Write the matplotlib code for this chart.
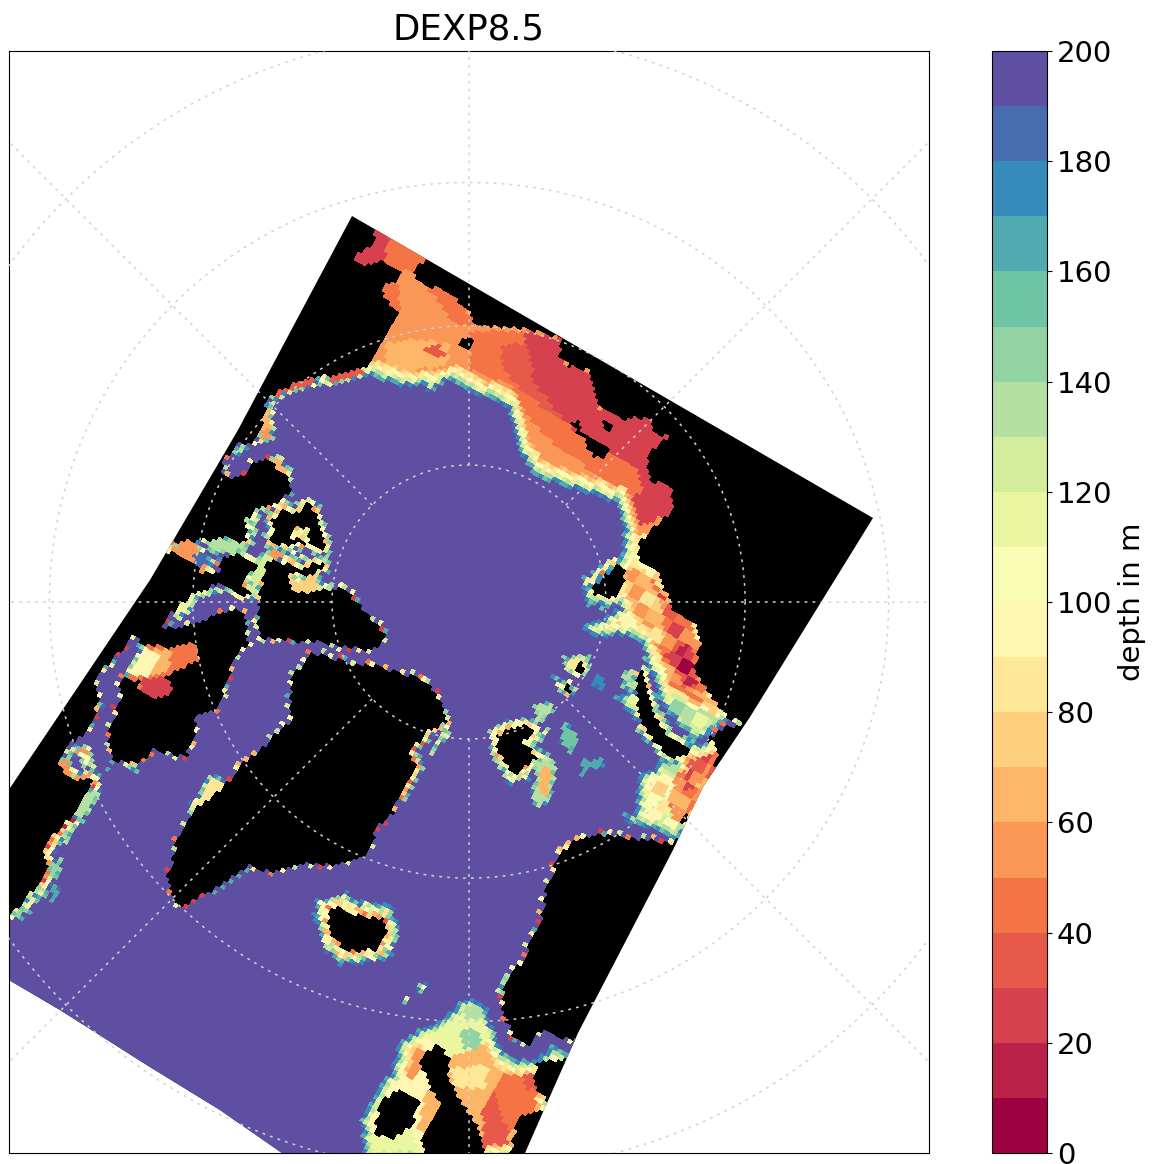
import numpy as np
import matplotlib
matplotlib.use("Agg")
import matplotlib.pyplot as plt
from matplotlib.colors import BoundaryNorm
from matplotlib.patches import Polygon
from matplotlib.path import Path

title = "DEXP8.5"
cbar_label = "depth in m"
levels = list(range(0, 201, 10))
cbar_ticks = list(range(0, 201, 20))
grid_lats = [80, 70, 60, 50]
grid_lons = [0, 45, 90, 135, 180, 225, 270, 315]

# map outlines (map x, map y)
domain = [(352, 216), (873, 518), (750, 717), (703, 787), (673, 850), (578, 1033), (547, 1103), (525, 1153),
          (515, 1175), (300, 1175), (282, 1153), (220, 1110), (150, 1067), (60, 1010), (9, 980), (-20, 965),
          (-20, 830), (10, 788), (123, 620), (150, 580), (238, 430)]

land_top_left = [(340, 195), (378, 225), (378, 230), (370, 247), (355, 258), (360, 265), (383, 260), (400, 273),
                 (397, 280), (383, 288), (383, 297), (400, 313), (387, 333), (375, 357), (363, 370), (340, 374),
                 (310, 380), (285, 388), (268, 400), (262, 425), (255, 442), (238, 445), (225, 460), (222, 470),
                 (190, 470), (150, 500), (200, 300)]
land_siberia = [(428, 255), (415, 270), (415, 278), (428, 288), (440, 287), (470, 313), (473, 325), (527, 330),
                (560, 338), (560, 357), (570, 367), (588, 370), (592, 387), (600, 407), (627, 420), (647, 417),
                (653, 433), (668, 437), (648, 453), (648, 480), (670, 487), (673, 510), (640, 540), (637, 560),
                (657, 573), (673, 610), (693, 623), (700, 647), (693, 667), (707, 693), (730, 720), (760, 725),
                (900, 520), (440, 235)]
land_east_edge = [(703, 741), (725, 726), (760, 725), (730, 790), (707, 787), (717, 757), (713, 743)]
land_banks = [(222, 470), (230, 478), (245, 475), (250, 463), (268, 458), (290, 480), (290, 492), (277, 505),
              (253, 510), (245, 523), (248, 540), (247, 545), (230, 538), (213, 540), (193, 542), (173, 543),
              (160, 546), (150, 500), (190, 460)]
land_victoria = [(220, 558), (237, 553), (250, 562), (257, 567), (248, 577), (242, 587), (252, 593), (247, 597),
                 (232, 591), (220, 585), (205, 590), (193, 595), (183, 603), (170, 615), (165, 622), (140, 625),
                 (140, 560), (165, 553), (173, 553), (193, 563), (203, 573), (220, 573)]
land_ellesmere = [(272, 518), (283, 510), (297, 512), (307, 501), (315, 510), (320, 528), (325, 545), (323, 552),
                  (307, 543), (298, 545), (287, 547), (270, 543), (272, 530)]
ellesmere_hole = [(293, 528), (310, 528), (307, 542), (293, 537)]
land_baffin = [(267, 558), (282, 565), (293, 563), (297, 572), (288, 575), (293, 593), (333, 588), (347, 590),
               (360, 605), (373, 620), (385, 633), (380, 650), (363, 650), (340, 647), (320, 643), (307, 640),
               (293, 643), (282, 638), (260, 640), (257, 627), (257, 610), (260, 590), (262, 577)]
land_devon = [(313, 563), (327, 563), (322, 570), (307, 577), (290, 573)]
land_quebec = [(165, 628), (175, 627), (195, 622), (240, 607), (247, 620), (248, 643), (238, 657), (230, 673),
               (217, 710), (197, 717), (195, 733), (187, 757), (153, 750), (140, 763), (112, 762), (108, 737),
               (120, 697), (120, 677), (143, 682), (138, 687), (147, 695), (163, 698), (175, 690), (163, 677),
               (187, 665), (198, 660), (193, 642), (167, 648), (143, 645), (135, 635)]
land_left = [(-20, 500), (140, 540), (165, 620), (165, 628), (135, 635), (115, 657), (95, 680), (100, 703), (83, 737),
             (70, 745), (60, 763), (65, 775), (80, 780), (97, 777), (78, 810), (63, 827), (43, 847), (50, 867),
             (40, 883), (20, 907), (9, 915), (-20, 915)]
land_greenland = [(292, 677), (307, 657), (315, 652), (347, 662), (383, 667), (427, 680), (443, 707), (447, 723),
                  (427, 733), (410, 753), (417, 767), (403, 790), (393, 813), (377, 827), (373, 847), (360, 860),
                  (333, 867), (307, 863), (273, 873), (250, 867), (227, 882), (203, 895), (183, 908), (173, 902),
                  (167, 880), (177, 840), (190, 813), (227, 783), (243, 763), (260, 750), (277, 733), (290, 720)]
land_iceland = [(330, 908), (342, 905), (350, 913), (367, 917), (383, 918), (387, 933), (380, 950), (350, 952),
                (333, 940), (328, 923)]
land_svalbard = [(590, 588), (603, 577), (617, 563), (628, 570), (617, 598), (605, 597), (595, 595)]
land_franz = [(575, 668), (583, 660), (585, 670), (578, 675)]
land_franz2 = [(565, 683), (572, 687), (570, 692), (565, 690)]
land_island = [(497, 737), (510, 727), (527, 725), (535, 733), (523, 743), (538, 757), (530, 763), (522, 768),
               (520, 778), (507, 767), (497, 753)]
land_zemlya = [(637, 672), (645, 672), (647, 690), (657, 717), (670, 737), (693, 750), (683, 758), (670, 760),
               (653, 740), (640, 720), (635, 693)]
land_norway = [(677, 837), (673, 843), (597, 833), (577, 838), (563, 850), (548, 880), (540, 920), (523, 960),
               (503, 983), (503, 1010), (510, 1033), (527, 1048), (537, 1032), (553, 1033), (560, 1040), (590, 1040),
               (720, 850)]
land_sweden = [(565, 1058), (537, 1063), (533, 1083), (547, 1103), (570, 1110), (590, 1060)]
land_south = [(543, 1110), (517, 1118), (510, 1153), (510, 1180), (560, 1180), (600, 1110)]
land_uk = [(435, 1042), (442, 1047), (452, 1058), (448, 1077), (457, 1093), (470, 1113), (483, 1137), (483, 1180),
           (428, 1180), (420, 1140), (427, 1130), (440, 1103), (430, 1090), (420, 1063), (423, 1057)]
land_ireland = [(380, 1100), (403, 1088), (420, 1100), (412, 1127), (390, 1140), (373, 1133)]
land_wrangel = [(458, 345), (463, 338), (475, 338), (472, 348), (465, 350)]
land_nsi = [(570, 422), (580, 420), (583, 432), (610, 448), (605, 460), (593, 457), (583, 440)]
land_nsi2 = [(600, 418), (615, 427), (610, 435), (605, 430)]
land_kolguev = [(683, 813), (692, 812), (687, 825), (680, 822)]
land_polys = [land_top_left, land_siberia, land_east_edge, land_banks, land_victoria, land_ellesmere, land_baffin,
              land_devon, land_quebec, land_left, land_greenland, land_iceland, land_svalbard, land_franz,
              land_franz2, land_island, land_zemlya, land_norway, land_sweden, land_south, land_uk, land_ireland,
              land_wrangel, land_nsi, land_nsi2, land_kolguev]
water_polys = [ellesmere_hole]

# wide shelves with a fade at the shelf break, painted in this order
shelf_polys = [
    [(362, 375), (373, 378), (403, 388), (420, 386), (430, 393), (447, 381), (468, 394), (497, 401), (510, 414),
     (517, 438), (523, 458), (537, 478), (567, 488), (600, 498), (617, 504), (623, 530), (622, 545), (660, 560),
     (720, 500), (660, 380), (500, 290), (380, 200), (340, 300)],
    [(345, 262), (378, 225), (392, 235), (385, 264), (360, 270)],
    [(390, 235), (430, 256), (412, 270), (400, 272), (385, 262)],
    [(380, 290), (395, 275), (402, 312), (385, 320)],
    [(425, 285), (445, 285), (478, 325), (455, 325)],
    [(387, 343), (420, 340), (450, 345), (447, 367), (400, 372), (385, 365)],
    [(425, 350), (440, 345), (445, 355), (430, 358)],
    [(470, 332), (530, 332), (560, 345), (560, 400), (610, 440), (640, 470), (650, 510), (620, 490), (560, 450),
     (530, 420), (510, 385), (470, 370)],
    [(500, 345), (560, 345), (560, 395), (590, 430), (600, 450), (560, 420), (520, 390), (505, 370)],
    [(525, 332), (560, 340), (565, 365), (590, 375), (600, 410), (650, 418), (670, 437), (650, 455), (650, 480),
     (675, 490), (675, 512), (640, 528), (632, 495), (640, 470), (620, 458), (583, 440), (560, 415), (535, 385)],
    [(620, 473), (640, 473), (642, 497), (625, 495)],
    # kara and barents
    [(622, 550), (627, 553), (627, 605), (613, 613), (603, 620), (587, 623), (582, 628), (590, 637), (607, 637),
     (627, 637), (643, 643), (643, 657), (647, 663), (657, 687), (667, 707), (677, 723), (693, 740), (703, 740),
     (717, 727), (730, 720), (760, 720), (720, 600), (650, 530)],
    [(582, 603), (587, 588), (597, 578), (607, 570), (617, 560), (622, 550), (640, 560), (635, 605), (610, 608)],
    [(627, 555), (640, 565), (660, 590), (670, 620), (670, 650), (660, 655), (640, 630), (625, 600)],
    [(650, 575), (673, 612), (693, 625), (700, 648), (693, 668), (707, 693), (700, 700), (670, 685), (660, 650),
     (665, 620)],
    [(665, 655), (690, 645), (695, 670), (700, 690), (680, 680)],
    [(655, 695), (680, 695), (725, 722), (700, 735), (685, 730), (665, 710)],
    [(680, 680), (708, 695), (730, 720), (720, 720), (690, 695)],
    # barents south
    [(613, 697), (625, 693), (637, 693), (637, 717), (650, 743), (660, 760), (650, 777), (640, 797), (643, 813),
     (620, 815), (627, 823), (643, 827), (673, 838), (700, 830), (725, 790), (717, 757), (700, 747), (693, 750),
     (670, 762), (660, 755), (640, 725)],
    [(680, 743), (713, 743), (717, 757), (725, 790), (700, 835), (677, 825), (665, 800), (680, 770)],
    [(690, 755), (712, 755), (700, 785), (685, 790)],
    [(640, 770), (665, 775), (675, 780), (665, 815), (650, 825), (635, 815)],
    # norwegian and north sea
    [(365, 1160), (365, 1130), (362, 1120), (370, 1105), (380, 1090), (393, 1068), (400, 1043), (420, 1030),
     (440, 1022), (455, 1008), (465, 1000), (478, 1000), (488, 1015), (495, 1035), (503, 1050), (525, 1062),
     (540, 1057), (555, 1045), (563, 1053), (575, 1060), (550, 1110), (510, 1160)],
    [(365, 1160), (365, 1120), (380, 1090), (393, 1068), (400, 1045), (430, 1030), (435, 1050), (425, 1100),
     (428, 1160)],
    [(403, 1045), (418, 1040), (425, 1060), (412, 1080), (400, 1070)],
    [(425, 1095), (440, 1100), (430, 1135), (418, 1130)],
    [(362, 1130), (385, 1140), (410, 1130), (425, 1160), (365, 1160)],
    [(425, 1035), (445, 1025), (465, 1005), (480, 1005), (490, 1040), (470, 1050), (450, 1058), (440, 1045)],
    [(465, 1007), (488, 1007), (488, 1020), (465, 1020)],
    [(462, 1030), (480, 1030), (480, 1050), (462, 1050)],
    [(450, 1070), (490, 1065), (485, 1090), (470, 1090), (455, 1085)],
    [(500, 1075), (530, 1065), (535, 1090), (545, 1105), (520, 1118), (510, 1130), (490, 1115)],
    [(483, 1110), (495, 1090), (500, 1115), (510, 1130), (505, 1160), (483, 1160)],
    [(520, 1070), (540, 1062), (535, 1090), (525, 1090)],
]
shelf_vals = [55, 25, 45, 45, 45, 65, 35, 45, 35, 25, 45,
              85, 75, 65, 45, 25, 120, 65,
              125, 55, 35, 95,
              65, 90, 55, 65, 115, 115, 135, 145, 85, 45, 35, 35]

# small patches, only one ring of fade
patch_polys = [
    [(532, 707), (550, 700), (553, 712), (542, 727), (537, 717)],
    [(560, 737), (565, 720), (572, 727), (580, 743), (570, 753), (557, 743)],
    [(583, 760), (603, 760), (605, 767), (587, 770), (580, 778)],
    [(593, 677), (605, 677), (605, 690), (593, 690)],
    [(550, 673), (563, 680), (580, 690), (573, 697), (560, 693)],
    [(563, 657), (590, 655), (590, 675), (565, 675)],
    [(623, 673), (635, 670), (635, 690), (622, 690)],
    [(533, 760), (553, 760), (558, 770), (550, 803), (540, 810), (530, 797), (537, 777)],
    [(540, 767), (552, 770), (548, 798), (538, 795)],
    [(525, 742), (530, 740), (552, 755), (548, 762)],
    [(533, 740), (548, 727), (552, 730), (538, 745)],
    # hudson bay
    [(120, 680), (143, 640), (165, 645), (195, 638), (200, 660), (187, 668), (165, 680), (178, 690), (163, 700),
     (147, 698), (136, 688)],
    [(175, 648), (195, 642), (198, 660), (170, 670)],
    [(150, 650), (170, 650), (170, 670), (150, 678)],
    [(128, 672), (145, 646), (163, 655), (148, 680)],
    [(137, 680), (163, 677), (178, 690), (163, 700), (147, 698)],
    # offshore specks
    [(417, 982), (430, 983), (423, 998), (415, 993)],
    [(406, 998), (410, 1000), (405, 1008), (402, 1005)],
    [(362, 1043), (365, 1045), (360, 1053), (357, 1052)],
    [(503, 977), (517, 973), (507, 997), (497, 990)],
    # alaska and the archipelago
    [(265, 392), (362, 368), (366, 378), (345, 383), (290, 393), (272, 405)],
    [(258, 405), (272, 405), (276, 430), (258, 430)],
    [(258, 430), (276, 430), (273, 442), (258, 443)],
    [(268, 457), (278, 455), (293, 468), (292, 482), (283, 473)],
    [(230, 453), (237, 447), (248, 442), (247, 450), (235, 458)],
    [(165, 545), (200, 540), (205, 555), (220, 560), (203, 575), (193, 565), (173, 555)],
    [(193, 555), (205, 555), (208, 565), (198, 565)],
    [(205, 541), (240, 539), (250, 545), (240, 552), (220, 555), (208, 552)],
    [(250, 515), (260, 508), (258, 527), (257, 540), (250, 535), (247, 523)],
    [(268, 548), (275, 555), (262, 577), (258, 595), (250, 597), (247, 590), (250, 575), (255, 562)],
    [(270, 545), (297, 553), (287, 563), (270, 557)],
    [(290, 577), (307, 577), (320, 570), (322, 590), (300, 595), (292, 595)],
    [(300, 556), (305, 553), (305, 562)],
    [(170, 617), (183, 603), (193, 595), (207, 590), (230, 588), (232, 592), (205, 597), (197, 603), (190, 612),
     (180, 622)],
    # baffin bay, labrador, west side
    [(207, 777), (220, 773), (227, 783), (207, 800), (197, 817), (185, 813), (190, 803)],
    [(425, 700), (437, 695), (450, 718), (447, 727), (430, 720)],
    [(427, 757), (437, 740), (447, 727), (453, 732), (440, 747), (432, 758)],
    [(77, 807), (93, 787), (102, 793), (90, 813), (80, 823), (72, 820)],
    [(60, 833), (77, 827), (67, 847), (63, 843)],
    [(50, 860), (62, 860), (62, 873), (48, 877)],
    [(53, 887), (60, 888), (52, 907), (49, 903)],
    [(10, 897), (37, 877), (40, 890), (20, 915), (10, 918)],
    [(58, 763), (77, 745), (90, 745), (95, 767), (97, 780), (80, 782), (67, 779)],
    [(70, 760), (85, 755), (90, 772), (75, 773)],
    [(80, 757), (90, 757), (92, 768), (82, 768)],
    [(125, 760), (140, 765), (137, 775), (125, 770)],
    [(97, 698), (107, 705), (103, 712), (95, 705)],
]
patch_vals = [135, 155, 165, 175, 105, 85, 135, 135, 60, 105, 85,
              45, 40, 65, 90, 25,
              100, 110, 135, 115,
              35, 60, 55, 60, 135,
              50, 185, 135, 105, 125, 55, 75, 75, 110,
              85, 100, 90, 135, 135, 145, 165, 125, 55, 200, 100, 60, 100]

shelf_edge_vals = [170, 125, 95, 75]
patch_edge_val = 140
mottle = [0, -30, 20, 0, -10, 30, -20, 10, 0, 40, -40, 15, -15]
block_shift = [0, 10, -10, 0, 20, -10, 10, 0, -20, 10, 0, -10]
mottled_box = (580, 550, 735, 840)
coast_spots = [200, 200, 45, 200, 95, 200, 135, 200, 200, 65, 110, 200, 200, 25, 200, 165, 85, 200, 200, 125, 200]
# x0, y0, x1, y1 and the values of the coastal band, nearest the land first
rim_boxes = [(300, 885, 410, 970, [75, 105, 145, 175]), (400, 730, 460, 800, [70, 140]),
             (0, 770, 110, 920, [55, 105, 150]), (580, 560, 635, 610, [70, 110, 150]),
             (490, 720, 545, 785, [90, 130, 170]), (620, 670, 700, 765, [100, 140]),
             (230, 500, 335, 600, [90, 140])]

CELL = 4.4
ANGLE = np.deg2rad(30)


def grow(mask):
    out = mask.copy()
    out[1:, :] |= mask[:-1, :]
    out[:-1, :] |= mask[1:, :]
    out[:, 1:] |= mask[:, :-1]
    out[:, :-1] |= mask[:, 1:]
    return out


def build_grid():
    u = np.arange(-60, 720, CELL)
    v = np.arange(-60, 1120, CELL)
    uu, vv = np.meshgrid(u, v)
    x = 352 + uu * np.cos(ANGLE) - vv * np.sin(ANGLE)
    y = 216 + uu * np.sin(ANGLE) + vv * np.cos(ANGLE)
    return x, y


def inside(poly, cx, cy):
    pts = np.column_stack([cx.ravel(), cy.ravel()])
    return Path(poly).contains_points(pts).reshape(cx.shape)


x, y = build_grid()
cx = 0.25 * (x[:-1, :-1] + x[1:, :-1] + x[:-1, 1:] + x[1:, 1:])
cy = 0.25 * (y[:-1, :-1] + y[1:, :-1] + y[:-1, 1:] + y[1:, 1:])
ii, jj = np.indices(cx.shape)
jitter = np.array(mottle)[(ii + 2 * jj) % len(mottle)]

land = np.zeros(cx.shape, dtype=bool)
for poly in land_polys:
    land |= inside(poly, cx, cy)
for poly in water_polys:
    land &= ~inside(poly, cx, cy)

depth = np.full(cx.shape, 200.0)
for poly, val in zip(shelf_polys, shelf_vals):
    depth[inside(poly, cx, cy)] = val

# the barents and kara shelves are blotchy, a few cells at a time
bx0, by0, bx1, by1 = mottled_box
blotch = np.array(block_shift)[(ii // 3 + 5 * (jj // 3)) % len(block_shift)]
sel = (depth < 200) & (cx >= bx0) & (cx <= bx1) & (cy >= by0) & (cy <= by1)
depth[sel] = depth[sel] + blotch[sel]

# shelf break: fade towards the open ocean
front = (depth >= 200) & ~land
for val in shelf_edge_vals:
    ring = grow(front) & ~front & ~land
    depth[ring] = np.maximum(depth[ring], val + jitter[ring] // 3)
    front = front | ring

patched = np.zeros(cx.shape, dtype=bool)
for poly, val in zip(patch_polys, patch_vals):
    sel = inside(poly, cx, cy)
    depth[sel] = val
    patched |= sel
front = (depth >= 200) & ~land
ring = grow(front) & ~front & ~land & patched
depth[ring] = np.maximum(depth[ring], patch_edge_val + jitter[ring])

# coastal bands where the picture shows them
open_ocean = (depth >= 200) & ~land
near = land
rings = []
for k in range(4):
    ring = grow(near) & ~near
    rings.append(ring)
    near = near | ring
for bx0, by0, bx1, by1, band in rim_boxes:
    box = (cx >= bx0) & (cx <= bx1) & (cy >= by0) & (cy <= by1)
    for k, val in enumerate(band):
        sel = rings[k] & box & open_ocean
        if k == len(band) - 1:
            sel = sel & (jitter >= 0)
        depth[sel] = np.clip(val + jitter[sel], 5, 195)

# isolated coloured cells along every other coast
spots = np.array(coast_spots)[(ii + 2 * jj) % len(coast_spots)]
sel = rings[0] & (depth >= 200) & ~land
depth[sel] = spots[sel]

cmap = plt.get_cmap("Spectral", 20)
norm = BoundaryNorm(levels, 20, clip=True)

fig = plt.figure(figsize=(11.52, 11.64), dpi=100)
ax = fig.add_axes([9 / 1152, 1 - 1153 / 1164, 920 / 1152, 1102 / 1164])
ax.set_xlim(9, 929)
ax.set_ylim(1153, 51)
ax.set_xticks([])
ax.set_yticks([])
ax.set_title(title, fontsize=25.6, pad=8)

back = Polygon(domain, closed=True, facecolor="black", edgecolor="none", zorder=1)
ax.add_patch(back)
mesh = ax.pcolormesh(x, y, np.ma.masked_where(land, depth), cmap=cmap, norm=norm, shading="flat",
                     antialiased=False, zorder=2)
mesh.set_clip_path(back)

# graticule
GRID_K = 1566
POLE_X, POLE_Y = 469, 602
theta = np.linspace(0, 2 * np.pi, 721)
grid_style = dict(color="lightgray", lw=1.1, dashes=(1.8, 3.4), zorder=3)
for lat in grid_lats:
    r = GRID_K * np.tan(np.deg2rad((90 - lat) / 2))
    ax.plot(POLE_X + r * np.cos(theta), POLE_Y + r * np.sin(theta), **grid_style)
r0 = GRID_K * np.tan(np.deg2rad((90 - max(grid_lats)) / 2))
for lon in grid_lons:
    c, s = np.cos(np.deg2rad(lon)), np.sin(np.deg2rad(lon))
    ax.plot([POLE_X + r0 * c, POLE_X + 1000 * c], [POLE_Y + r0 * s, POLE_Y + 1000 * s], **grid_style)

cax = fig.add_axes([992 / 1152, 1 - 1153 / 1164, 55 / 1152, 1102 / 1164])
cb = fig.colorbar(mesh, cax=cax, ticks=cbar_ticks, spacing="proportional")
cb.ax.minorticks_off()
cb.ax.tick_params(labelsize=21)
cb.set_label(cbar_label, fontsize=21, labelpad=4)

fig.savefig("out.png", dpi=100)
plt.close(fig)
